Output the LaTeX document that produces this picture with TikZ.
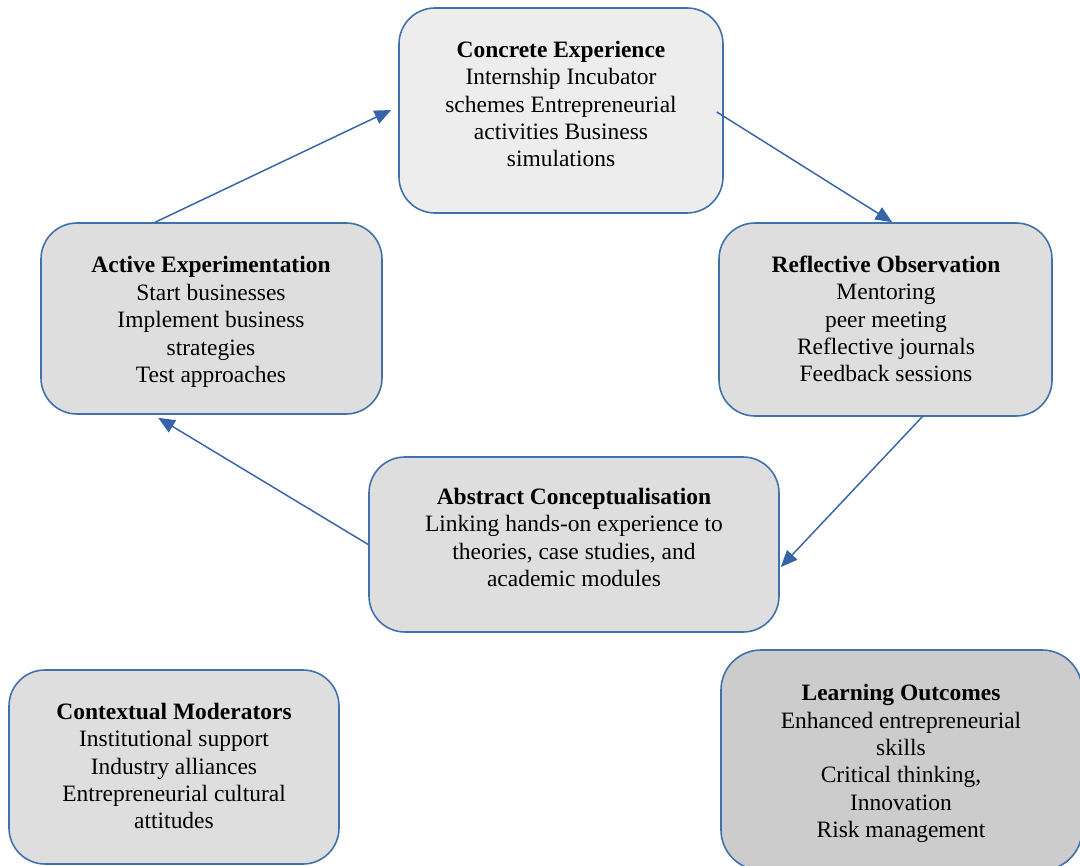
\documentclass[tikz,border=0pt]{standalone}
\usepackage{fontspec}
\setmainfont{Liberation Serif}
\usetikzlibrary{arrows.meta,calc}

\definecolor{edgeblue}{RGB}{65,113,170}
\definecolor{arrowblue}{RGB}{55,100,168}
\definecolor{lightfill}{RGB}{237,237,237}
\definecolor{midfill}{RGB}{222,222,222}
\definecolor{darkfill}{RGB}{204,204,204}

\begin{document}
\begin{tikzpicture}[x=0.75pt,y=-0.75pt,
  stagebox/.style={draw=edgeblue, line width=1.2pt, rounded corners=27pt, inner sep=0pt},
  label/.style={inner sep=0pt, align=center, text=black,
    font=\fontsize{17.6}{20.55}\selectfont},
  flow/.style={draw=arrowblue, line width=1.1pt, -{Triangle[length=12.5pt,width=10.5pt]}}]

  \useasboundingbox (0,0) rectangle (1080,866);
  \clip (0,0) rectangle (1080,866);

  % stage boxes of the cycle and the two side boxes
  \node[stagebox, fill=lightfill, minimum width=243pt, minimum height=153.75pt] (con) at (561,110.5) {};
  \node[stagebox, fill=midfill, minimum width=249.75pt, minimum height=144.75pt] (ref) at (885.5,319.5) {};
  \node[stagebox, fill=midfill, minimum width=255.75pt, minimum height=143.25pt] (act) at (211.5,318.5) {};
  \node[stagebox, fill=midfill, minimum width=307.5pt, minimum height=131.25pt] (abs) at (574,544.5) {};
  \node[stagebox, fill=midfill, minimum width=247.5pt, minimum height=145.5pt] (ctx) at (174,767) {};
  \node[stagebox, fill=darkfill, rounded corners=30pt, minimum width=270.75pt, minimum height=165pt] (out) at (901.5,760) {};

  % box texts
  \node[label] (conT) at (561,104) {\textbf{Concrete Experience}\\Internship Incubator\\schemes Entrepreneurial\\activities Business\\simulations};
  \node[label] (refT) at (886,319) {\textbf{Reflective Observation}\\Mentoring\\peer meeting\\Reflective journals\\Feedback sessions};
  \node[label] (actT) at (211,322) {\textbf{Active Experimentation}\\Start businesses\\Implement business\\strategies\\Test approaches};
  \node[label] (absT) at (574,537.5) {\textbf{Abstract Conceptualisation}\\Linking hands-on experience to\\theories, case studies, and\\academic modules};
  \node[label] (ctxT) at (174,766) {\textbf{Contextual Moderators}\\Institutional support\\Industry alliances\\Entrepreneurial cultural\\attitudes};
  \node[label] (outT) at (901,763.5) {\textbf{Learning Outcomes}\\Enhanced entrepreneurial\\skills\\Critical thinking,\\Innovation\\Risk management};

  % learning cycle connectors
  \draw[flow] ($(act.north west)+(115,0)$) -- ($(con.west)+(-7,-0.5)$);
  \draw[flow] ($(con.east)+(-7,1.5)$) -- ($(ref.north west)+(174,0)$);
  \draw[flow] ($(ref.south west)+(204,0)$) -- ($(abs.east)+(1,22.5)$);
  \draw[flow] (abs.west) -- ($(act.south west)+(118,3)$);
\end{tikzpicture}
\end{document}
